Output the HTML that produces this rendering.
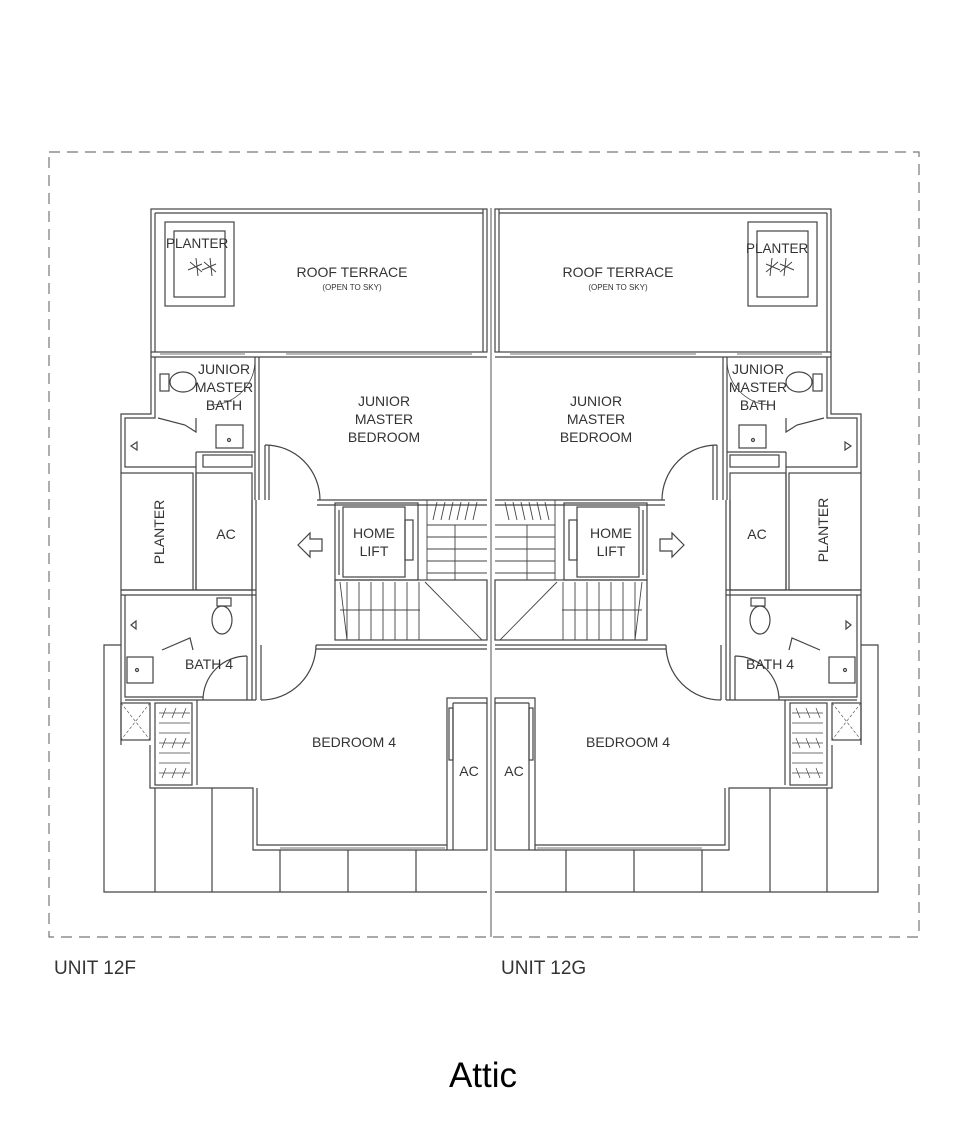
<!DOCTYPE html>
<html><head><meta charset="utf-8"><style>
html,body{margin:0;padding:0;background:#fff;}
svg{display:block;}
text{font-family:"Liberation Sans",sans-serif;fill:#333;}
</style></head><body>
<svg width="967" height="1125" viewBox="0 0 967 1125" xmlns="http://www.w3.org/2000/svg">
<rect x="49" y="152" width="870" height="785" fill="none" stroke="#777" stroke-width="1.2" stroke-dasharray="11,7"/>
<line x1="491" y1="208" x2="491" y2="937" stroke="#555" stroke-width="1"/>
<defs>
<g id="half" fill="none" stroke="#444" stroke-width="1.2">
  <!-- roof terrace -->
  <rect x="151" y="209" width="336" height="143"/>
  <line x1="155" y1="213" x2="155" y2="352"/>
  <line x1="155" y1="213" x2="483" y2="213"/>
  <line x1="483" y1="209" x2="483" y2="352"/>
  <rect x="165" y="222" width="69" height="84"/>
  <rect x="174" y="231" width="51" height="66"/>
  <path d="M190 262 l12 10 M196 258 l2 18 M188 270 l14 -6 M204 262 l12 10 M210 258 l2 18 M202 270 l14 -6" stroke-width="1"/>
  <!-- wall below terrace -->
  <line x1="151" y1="357" x2="487" y2="357"/>
  <line x1="160" y1="354" x2="245" y2="354" stroke-width="0.8"/>
  <line x1="286" y1="354" x2="472" y2="354" stroke-width="0.8"/>
  <!-- JM bath -->
  <path d="M151 352 V414 H121 V473"/>
  <path d="M155 357 V418 H125 V467 H196"/>
  <line x1="255" y1="357" x2="255" y2="500"/>
  <line x1="259" y1="357" x2="259" y2="500"/>
  <ellipse cx="183" cy="382" rx="13" ry="10"/>
  <rect x="160" y="374" width="9" height="17"/>
  <path d="M212 405 A 45 45 0 0 0 255 362" stroke-width="0.8"/>
  <path d="M158 418 L185 425 L196 432 L196 418"/>
  <path d="M131 446 l6 -4 v8 z"/>
  <rect x="216" y="425" width="27" height="23"/>
  <circle cx="229" cy="440" r="1.5"/>
  <rect x="203" y="455" width="49" height="12"/>
  <line x1="196" y1="452" x2="196" y2="590"/>
  <line x1="196" y1="452" x2="255" y2="452"/>
  <!-- planter / AC -->
  <rect x="121" y="473" width="72" height="117"/>
  <rect x="196" y="473" width="56" height="117"/>
  <line x1="121" y1="590" x2="256" y2="590"/>
  <line x1="121" y1="595" x2="256" y2="595"/>
  <!-- corridor walls -->
  <line x1="252" y1="500" x2="252" y2="700"/>
  <line x1="256" y1="500" x2="256" y2="700"/>
  <line x1="265" y1="445" x2="265" y2="500"/>
  <line x1="269" y1="445" x2="269" y2="500"/>
  <path d="M265 445 A 55 55 0 0 1 320 500"/>
  <line x1="317" y1="500" x2="487" y2="500"/>
  <line x1="317" y1="505" x2="487" y2="505"/>
  <!-- arrow -->
  <path d="M298 545 L310 533 V539 H322 V551 H310 V557 Z"/>
  <!-- lift -->
  <rect x="335" y="503" width="83" height="77"/>
  <rect x="343" y="507" width="62" height="70"/>
  <rect x="405" y="520" width="8" height="40"/>
  <line x1="339" y1="510" x2="339" y2="575"/>
  <!-- stairs -->
  <rect x="335" y="580" width="152" height="60"/>
  <path d="M347 582 V640 M359 582 V640 M371 582 V640 M383 582 V640 M395 582 V640 M407 582 V640 M419 582 V640 M340 610 H420 M340 582 L347 640 M425 582 L482 640" stroke-width="0.9"/>
  <path d="M427 525 H487 M427 537 H487 M427 549 H487 M427 561 H487 M427 573 H487 M455 525 V580 M427 500 V580" stroke-width="0.9"/>
  <path d="M433 520 l4 -18 M441 520 l4 -18 M449 520 l4 -18 M457 520 l4 -18 M465 520 l4 -18 M473 520 l4 -18" stroke-width="0.9"/>
  <line x1="316" y1="645" x2="487" y2="645"/>
  <line x1="316" y1="649" x2="487" y2="649"/>
  <!-- bath 4 -->
  <path d="M121 590 V745"/>
  <path d="M125 595 V697 H203"/>
  <line x1="125" y1="700" x2="256" y2="700"/>
  <rect x="217" y="598" width="14" height="8"/>
  <ellipse cx="222" cy="620" rx="10" ry="14"/>
  <path d="M131 625 l5 -4 v8 z"/>
  <path d="M162 650 L190 638 L193 650" />
  <rect x="127" y="657" width="26" height="26"/>
  <circle cx="137" cy="670" r="1.5"/>
  <line x1="247" y1="656" x2="247" y2="700"/>
  <path d="M203 700 A 44 44 0 0 1 247 656"/>
  <line x1="261" y1="645" x2="261" y2="700"/>
  <path d="M261 700 A 55 55 0 0 0 316 645"/>
  <!-- shower / rack -->
  <rect x="121" y="703" width="29" height="37"/>
  <path d="M121 703 L150 740 M150 703 L121 740" stroke-width="0.6" stroke-dasharray="3,2"/>
  <rect x="155" y="703" width="37" height="82"/>
  <path d="M159 713 H190 M159 723 H190 M159 733 H190 M159 743 H190 M159 753 H190 M159 763 H190 M159 773 H190 M162 718 l4 -10 M172 718 l4 -10 M182 718 l4 -10 M162 748 l4 -10 M172 748 l4 -10 M182 748 l4 -10 M162 778 l4 -10 M172 778 l4 -10 M182 778 l4 -10" stroke-width="0.7"/>
  <!-- bedroom 4 -->
  <path d="M150 745 V788 H253 V850 H447"/>
  <path d="M197 700 V785 M257 788 V845 H447"/>
  <line x1="280" y1="848" x2="445" y2="848" stroke-width="0.8"/>
  <rect x="447" y="698" width="40" height="152"/>
  <line x1="453" y1="703" x2="453" y2="850"/>
  <rect x="449" y="708" width="4" height="52"/>
  <line x1="453" y1="703" x2="487" y2="703"/>
  <!-- balcony -->
  <path d="M121 645 H104 V892 H487"/>
  <path d="M155 788 V892 M212 788 V892 M280 850 V892 M348 850 V892 M416 850 V892"/>
</g>
</defs>
<use href="#half"/>
<use href="#half" transform="translate(982,0) scale(-1,1)"/>

<g font-size="14">
<text x="166" y="248" font-size="13.5">PLANTER</text>
<text x="352" y="277" text-anchor="middle">ROOF TERRACE</text>
<text x="352" y="290" text-anchor="middle" font-size="8">(OPEN TO SKY)</text>
<text x="618" y="277" text-anchor="middle">ROOF TERRACE</text>
<text x="618" y="290" text-anchor="middle" font-size="8">(OPEN TO SKY)</text>
<text x="746" y="253" font-size="13.5">PLANTER</text>
<g text-anchor="middle">
<text x="224" y="374">JUNIOR</text><text x="224" y="392">MASTER</text><text x="224" y="410">BATH</text>
<text x="758" y="374">JUNIOR</text><text x="758" y="392">MASTER</text><text x="758" y="410">BATH</text>
<text x="384" y="406">JUNIOR</text><text x="384" y="424">MASTER</text><text x="384" y="442">BEDROOM</text>
<text x="596" y="406">JUNIOR</text><text x="596" y="424">MASTER</text><text x="596" y="442">BEDROOM</text>
<text x="374" y="538">HOME</text><text x="374" y="556">LIFT</text>
<text x="611" y="538">HOME</text><text x="611" y="556">LIFT</text>
<text x="226" y="539">AC</text><text x="757" y="539">AC</text>
<text x="209" y="669">BATH 4</text><text x="770" y="669">BATH 4</text>
<text x="354" y="747">BEDROOM 4</text><text x="628" y="747">BEDROOM 4</text>
<text x="469" y="776">AC</text><text x="514" y="776">AC</text>
</g>
<text transform="translate(164,532) rotate(-90)" text-anchor="middle">PLANTER</text>
<text transform="translate(828,530) rotate(-90)" text-anchor="middle">PLANTER</text>
</g>
<text x="54" y="974" font-size="19" fill="#555">UNIT 12F</text>
<text x="501" y="974" font-size="19" fill="#555">UNIT 12G</text>
<text x="483" y="1087" font-size="35" text-anchor="middle" style="fill:#000">Attic</text>
</svg>
</body></html>
